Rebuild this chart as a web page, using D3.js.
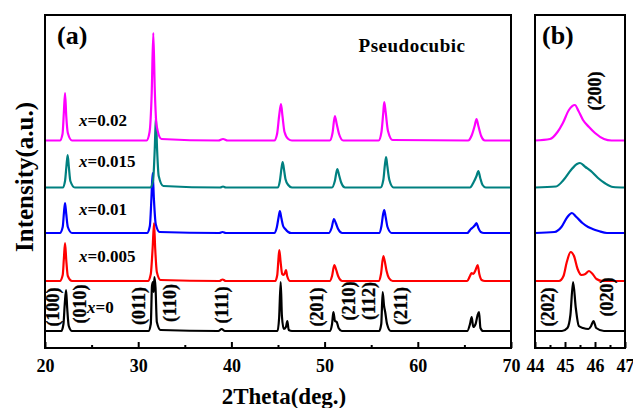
<!DOCTYPE html>
<html>
<head>
<meta charset="utf-8">
<script src="https://cdn.jsdelivr.net/npm/d3@7"></script>
<style>
  html, body { margin: 0; padding: 0; background: #fff; }
  svg { display: block; }
  text { font-family: "Liberation Serif", "Times New Roman", serif; }
</style>
</head>
<body>
<svg id="chart" width="633" height="408"></svg>
<script>
// ---------------- DATA ----------------
// Intensity values are in arbitrary units (stacked patterns, offset included).
const seriesNames = ["x=0", "x=0.005", "x=0.01", "x=0.015", "x=0.02"];
const seriesColors = ["#000000", "#ff0000", "#0000ff", "#008080", "#ff00ff"];

// Panel (a): 2Theta 20-70
const patternX0 = [
  [20,17],[21.75,17],[21.98,24],[22.12,44],[22.26,58],[22.38,40],[22.55,22],[22.9,17],
  [31.1,17],[31.35,24],[31.48,62],[31.58,66],[31.66,56],[31.74,71],[31.86,60],[32.0,26],[32.4,18],
  [38.6,17],[38.95,19],[39.3,17],
  [44.95,17],[45.12,30],[45.29,66],[45.42,32],[45.62,19],[45.85,21],[46.0,27],[46.15,18],[46.5,17],
  [50.55,17],[50.8,24],[50.94,36],[51.12,27],[51.3,26],[51.5,20],[51.85,17],
  [55.85,17],[56.08,24],[56.23,56],[56.38,42],[56.5,36],[56.7,24],[57.1,17],
  [65.3,17],[65.6,24],[65.78,31],[65.95,21],[66.2,24],[66.42,33],[66.57,36],[66.72,20],[67.0,17],[70,17]
];
const patternX0005 = [
  [20,67],[21.6,67],[21.9,73],[22.03,90],[22.15,105],[22.28,88],[22.45,72],[22.9,67],
  [31.05,67],[31.35,74],[31.55,100],[31.7,125],[31.82,100],[32.0,76],[32.4,68],
  [38.7,67],[39.06,68.5],[39.4,67],
  [44.7,67],[44.92,73],[45.04,88],[45.14,98],[45.28,86],[45.45,74],[45.62,73],[45.78,76],[45.86,78],[45.98,72],[46.3,67],
  [50.55,67],[50.8,72],[51.04,83],[51.25,78],[51.45,72],[51.9,67],
  [55.8,67],[56.05,74],[56.3,92],[56.45,87],[56.65,77],[56.9,70],[57.3,67],
  [65.3,67],[65.6,72],[65.78,75],[65.95,74],[66.2,78],[66.42,83],[66.6,74],[66.85,68],[67.2,67],[70,67]
];
const patternX001 = [
  [20,115],[21.6,115],[21.9,121],[22.03,135],[22.15,145],[22.28,134],[22.45,121],[22.9,115],
  [30.95,115],[31.25,122],[31.42,150],[31.55,175],[31.68,150],[31.88,124],[32.3,116],
  [38.7,115],[39.05,116],[39.4,115],
  [44.6,115],[44.88,121],[45.05,130],[45.2,137],[45.36,130],[45.55,122],[45.78,119],[46.1,116],[46.4,115],
  [50.45,115],[50.75,120],[51.0,129],[51.2,125],[51.45,119],[51.9,115],
  [55.85,115],[56.1,122],[56.28,134],[56.4,138],[56.55,131],[56.75,121],[57.2,115],
  [65.3,115],[65.7,119],[65.95,121],[66.15,123],[66.3,125],[66.5,120],[66.75,116],[67.1,115],[70,115]
];
const patternX0015 = [
  [20,160.5],[21.9,160.5],[22.15,167],[22.3,182],[22.43,193],[22.56,181],[22.72,167],[23.2,160.5],
  [31.3,160.5],[31.6,168],[31.78,200],[31.9,231],[32.02,200],[32.2,172],[32.7,162],
  [38.8,160.5],[39.1,161.5],[39.4,160.5],
  [44.95,160.5],[45.2,167],[45.38,180],[45.5,186],[45.62,180],[45.8,169],[46.1,163],[46.5,160.5],
  [50.8,160.5],[51.1,167],[51.36,179],[51.55,173],[51.8,165],[52.2,160.5],
  [56.0,160.5],[56.3,168],[56.48,184],[56.6,191],[56.73,182],[56.95,168],[57.4,160.5],
  [65.6,160.5],[66.0,166],[66.3,172],[66.5,177],[66.7,170],[66.95,163],[67.3,160.5],[70,160.5]
];
const patternX002 = [
  [20,207.5],[21.6,207.5],[21.88,214],[22.02,235],[22.15,255],[22.28,232],[22.45,215],[22.9,207.5],
  [30.9,207.5],[31.22,216],[31.45,255],[31.62,315],[31.78,258],[31.98,222],[32.5,209],
  [38.6,207.5],[39.1,209],[39.6,207.5],
  [44.6,207.5],[44.9,214],[45.12,232],[45.32,244],[45.48,232],[45.7,216],[46.1,209],[46.5,207.5],
  [50.55,207.5],[50.85,215],[51.1,232],[51.3,224],[51.55,214],[52.0,207.5],
  [55.8,207.5],[56.1,216],[56.3,236],[56.4,246],[56.55,236],[56.8,217],[57.3,208],
  [65.4,207.5],[65.8,213],[66.1,222],[66.3,229],[66.5,222],[66.8,212],[67.2,207.5],[70,207.5]
];

// Panel (b): 2Theta 44-47 (enlarged (200) region)
const zoomX0 = [
  [44,17],[44.9,17],[45.08,20],[45.18,33],[45.27,66],[45.36,40],[45.46,22],[45.6,20],[45.78,19],[45.87,22],[45.95,27],[46.04,20],[46.3,17],[47,17]
];
const zoomX0005 = [
  [44,67],[44.8,67],[44.95,72],[45.06,86],[45.19,96],[45.3,92],[45.42,79],[45.55,73],[45.68,74],[45.8,77],[45.92,74],[46.05,69],[46.25,67],[47,67]
];
const zoomX001 = [
  [44,115],[44.65,116],[44.88,121],[45.08,131],[45.23,135],[45.38,131],[45.58,125],[45.77,121],[45.92,119],[46.12,117],[46.4,115],[47,115]
];
const zoomX0015 = [
  [44,160.5],[44.7,161.5],[44.95,168],[45.2,178],[45.4,184],[45.5,185],[45.68,181],[45.9,176],[46.1,170],[46.32,165],[46.6,161],[47,160.5]
];
const zoomX002 = [
  [44,207.5],[44.5,209],[44.75,216],[44.93,225],[45.13,238],[45.33,243],[45.45,237],[45.6,228],[45.8,221],[46.0,215],[46.3,209],[46.55,207.5],[47,207.5]
];

// Axis ticks
const ticksA = [20, 30, 40, 50, 60, 70];
const minorTicksA = [25, 35, 45, 55, 65];
const ticksB = [44, 45, 46, 47];
const minorTicksB = [44.5, 45.5, 46.5];

// Miller-index annotations (2Theta position)
const hklA = ["(100)", "(010)", "(011)", "(110)", "(111)", "(201)", "(210)", "(112)", "(211)"];
const hklAPos = [20.86, 23.76, 30.1, 33.4, 39.0, 49.2, 52.6, 54.8, 58.2];
const hklB = ["(202)", "(020)", "(200)"];
const hklBPos = [44.43, 46.4, 46.0];

// ---------------- LAYOUT ----------------
const plotTop = 15, plotBottom = 348;
const panelA = { left: 45, right: 511 };
const panelB = { left: 535, right: 625 };
const hklAY = [307, 304, 306, 303, 305, 307, 301, 301, 306];
const hklBY = [307, 297, 91];
const seriesLabelPos = [[87, 313], [79, 262], [79, 215], [79, 167], [79, 126]];

const svg = d3.select("#chart");

const xA = d3.scaleLinear().domain([20, 70]).range([panelA.left, panelA.right]);
const xB = d3.scaleLinear().domain([44, 47]).range([panelB.left, panelB.right]);
const y = d3.scaleLinear().domain([0, 333]).range([plotBottom, plotTop]);

const patternsA = [patternX0, patternX0005, patternX001, patternX0015, patternX002];
const patternsB = [zoomX0, zoomX0005, zoomX001, zoomX0015, zoomX002];

// clip paths
const defs = svg.append("defs");
defs.append("clipPath").attr("id", "clipA").append("rect")
  .attr("x", panelA.left).attr("y", plotTop).attr("width", panelA.right - panelA.left).attr("height", plotBottom - plotTop);
defs.append("clipPath").attr("id", "clipB").append("rect")
  .attr("x", panelB.left).attr("y", plotTop).attr("width", panelB.right - panelB.left).attr("height", plotBottom - plotTop);

function drawPanel(x, patterns, clipId) {
  const line = d3.line().x(d => x(d[0])).y(d => y(d[1])).curve(d3.curveMonotoneX);
  const g = svg.append("g").attr("clip-path", `url(#${clipId})`);
  patterns.forEach((p, i) => {
    g.append("path").datum(p)
      .attr("d", line)
      .attr("fill", "none")
      .attr("stroke", seriesColors[i])
      .attr("stroke-width", 2.2)
      .attr("stroke-linejoin", "round");
  });
}
drawPanel(xA, patternsA, "clipA");
drawPanel(xB, patternsB, "clipB");

function drawAxis(x, major, minor) {
  const gMaj = svg.append("g").attr("transform", `translate(0,${plotBottom})`)
    .call(d3.axisBottom(x).tickValues(major).tickSize(-6).tickPadding(11).tickFormat(d3.format("d")));
  gMaj.select(".domain").remove();
  gMaj.selectAll("line").attr("stroke", "#000").attr("stroke-width", 2);
  gMaj.selectAll("text").attr("font-size", 18).attr("font-weight", "bold")
    .attr("font-family", "Liberation Serif, serif").attr("fill", "#000");
  const gMin = svg.append("g").attr("transform", `translate(0,${plotBottom})`)
    .call(d3.axisBottom(x).tickValues(minor).tickSize(-3).tickFormat(""));
  gMin.select(".domain").remove();
  gMin.selectAll("line").attr("stroke", "#000").attr("stroke-width", 2);
}
drawAxis(xA, ticksA, minorTicksA);
drawAxis(xB, ticksB, minorTicksB);

// frames
[panelA, panelB].forEach(p => {
  svg.append("rect").attr("x", p.left).attr("y", plotTop)
    .attr("width", p.right - p.left).attr("height", plotBottom - plotTop)
    .attr("fill", "none").attr("stroke", "#000").attr("stroke-width", 2);
});

// hkl labels
function hkl(x, labels, pos, ys) {
  labels.forEach((t, i) => {
    svg.append("text")
      .attr("transform", `translate(${x(pos[i])},${ys[i]}) rotate(-90)`)
      .attr("text-anchor", "middle").attr("dominant-baseline", "central")
      .attr("font-size", 18).attr("font-weight", 600).attr("stroke", "#000").attr("stroke-width", 0.3)
      .attr("fill", "#000").text(t);
  });
}
hkl(xA, hklA, hklAPos, hklAY);
hkl(xB, hklB, hklBPos, hklBY);

// series labels
seriesNames.forEach((name, i) => {
  const t = svg.append("text").attr("x", seriesLabelPos[i][0]).attr("y", seriesLabelPos[i][1])
    .attr("font-size", 17).attr("font-weight", "bold").attr("fill", "#000");
  t.append("tspan").attr("font-style", "italic").text(name.slice(0, 1));
  t.append("tspan").text(name.slice(1));
});

// panel labels
svg.append("text").attr("x", 57).attr("y", 44).attr("font-size", 26).attr("font-weight", "bold").text("(a)");
svg.append("text").attr("x", 542).attr("y", 44).attr("font-size", 26).attr("font-weight", "bold").text("(b)");
svg.append("text").attr("x", 412).attr("y", 52).attr("text-anchor", "middle")
  .attr("font-size", 19).attr("font-weight", "bold").attr("letter-spacing", 0.5).text("Pseudocubic");

// axis titles
svg.append("text").attr("x", 284).attr("y", 404).attr("text-anchor", "middle")
  .attr("font-size", 23).attr("font-weight", "bold").text("2Theta(deg.)");
svg.append("text").attr("transform", "translate(24,177) rotate(-90)")
  .attr("text-anchor", "middle").attr("dominant-baseline", "central")
  .attr("font-size", 25).attr("font-weight", "bold").text("Intensity(a.u.)");
</script>
</body>
</html>
